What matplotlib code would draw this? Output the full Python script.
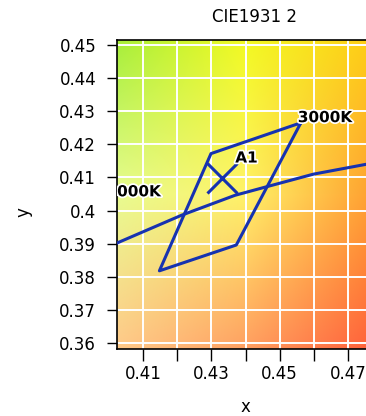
import numpy as np
import matplotlib.pyplot as plt
import matplotlib.patheffects as pe
from matplotlib.colors import to_rgb

# planckian locus
locus_x = [0.4024, 0.4213, 0.4369, 0.4462, 0.4599, 0.4770]
locus_y = [0.3902, 0.3986, 0.4046, 0.4072, 0.4110, 0.4143]

# 3000K bin quadrangle corners
quad_x = [0.4562, 0.4299, 0.4148, 0.4373, 0.4562]
quad_y = [0.4265, 0.4172, 0.3818, 0.3896, 0.4265]

# measured point A1
pt_x, pt_y = 0.4330, 0.4098
pt_label = "A1"

cct_labels = ["3000K", "4000K"]
cct_label_x = [0.4553, 0.4152]
cct_label_y = [0.4258, 0.4034]

x_ticks = [0.41, 0.42, 0.43, 0.44, 0.45, 0.46, 0.47]
x_ticklabels = ["0.41", "", "0.43", "", "0.45", "", "0.47"]
y_ticks = [0.36, 0.37, 0.38, 0.39, 0.40, 0.41, 0.42, 0.43, 0.44, 0.45]
y_ticklabels = ["0.36", "0.37", "0.38", "0.39", "0.4", "0.41", "0.42", "0.43", "0.44", "0.45"]

# background colours sampled from the chart (rows top -> bottom)
bg_colors = [
    ["#a6ee3a", "#f2fa22", "#ffcc16"],
    ["#e8fc90", "#fff268", "#ffa030"],
    ["#ffca8a", "#ffa062", "#ff603a"],
]

xlim = (0.4024, 0.4773)
ylim = (0.3582, 0.4515)

plt.rcParams['font.family'] = 'DejaVu Sans'
fig = plt.figure(figsize=(3.66, 4.16), dpi=100)
ax = fig.add_axes([117 / 366, 1 - 349 / 416, 256 / 366, 309 / 416])

# colour background: pixel centres on the axes corners
img = np.array([[to_rgb(c) for c in row] for row in bg_colors])
dx = (xlim[1] - xlim[0]) / 2 / 2
dy = (ylim[1] - ylim[0]) / 2 / 2
ax.imshow(img, extent=(xlim[0] - dx, xlim[1] + dx, ylim[0] - dy, ylim[1] + dy),
          interpolation='bilinear', aspect='auto', zorder=0)

ax.set_xlim(*xlim)
ax.set_ylim(*ylim)

for xv in x_ticks:
    ax.axvline(xv, color='white', lw=1.4, zorder=1)
for yv in y_ticks:
    ax.axhline(yv, color='white', lw=1.4, zorder=1)

blue = '#1632b0'
ax.plot(locus_x, locus_y, color=blue, lw=2.2, zorder=3)
ax.plot(quad_x, quad_y, color=blue, lw=2.2, zorder=3)
ax.plot([pt_x], [pt_y], marker='x', markersize=21, mew=2.2, color=blue, zorder=4)

halo = [pe.withStroke(linewidth=2.5, foreground='white')]
labels = [
    ax.text(pt_x + 0.0040, pt_y + 0.0038, pt_label, ha='left'),
    ax.text(cct_label_x[0], cct_label_y[0], cct_labels[0], ha='left'),
    ax.text(cct_label_x[1], cct_label_y[1], cct_labels[1], ha='right'),
]
for t in labels:
    t.set_fontsize(11)
    t.set_fontweight('bold')
    t.set_color('black')
    t.set_va('bottom')
    t.set_path_effects(halo)
    t.set_zorder(5)
    t.set_clip_on(True)
    t.set_clip_box(ax.bbox)
    t.set_clip_path(ax.patch)

ax.set_xticks(x_ticks)
ax.set_xticklabels(x_ticklabels)
ax.set_yticks(y_ticks)
ax.set_yticklabels(y_ticklabels)
ax.tick_params(axis='x', direction='out', length=8.5, width=1, labelsize=12, pad=3)
ax.tick_params(axis='y', direction='out', length=7, width=1, labelsize=12, pad=8)
for s in ax.spines.values():
    s.set_linewidth(1.2)

fig.text(255 / 366, 1 - 17 / 416, "CIE1931 2", ha='center', va='center', fontsize=12)
fig.text(245 / 366, 1 - 407 / 416, "x", ha='center', va='center', fontsize=12)
fig.text(23 / 366, 1 - 212 / 416, "y", ha='center', va='center', fontsize=12, rotation=90)

fig.savefig("out.png", dpi=100)
